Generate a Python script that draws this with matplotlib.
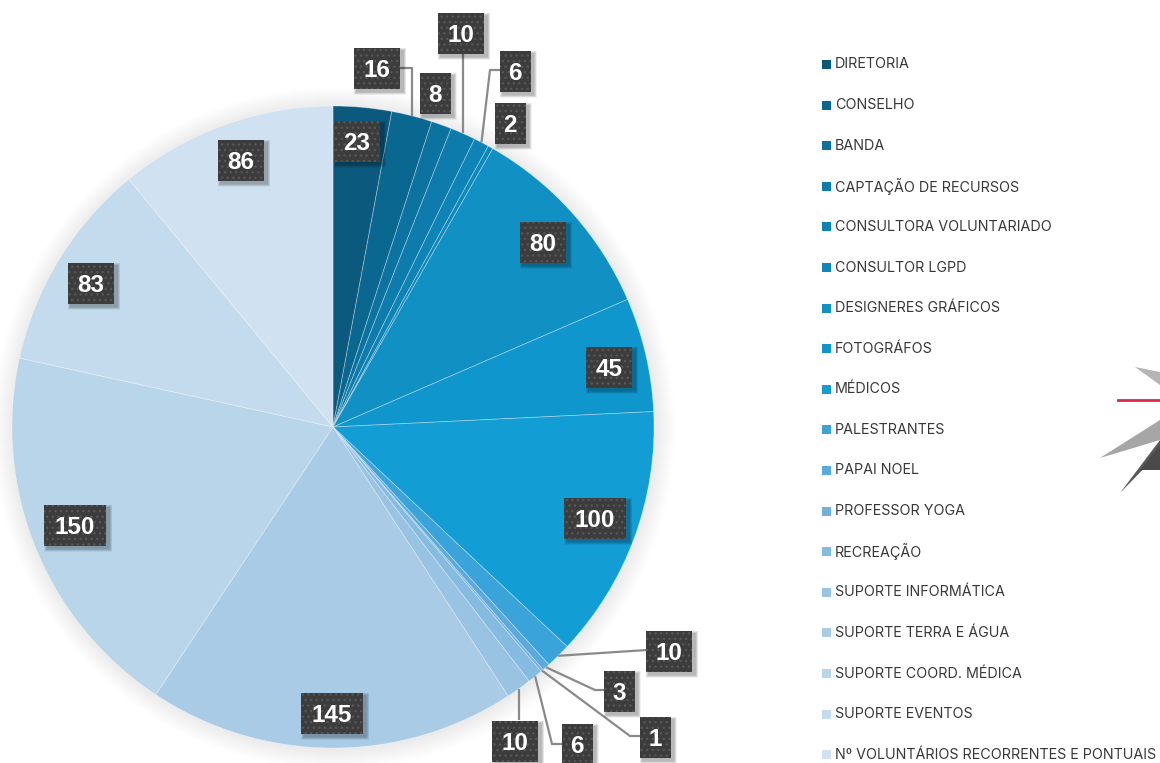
import matplotlib
matplotlib.use("Agg")
import matplotlib.pyplot as plt
from matplotlib.patches import Rectangle, Circle, Polygon
import numpy as np

plt.rcParams['hatch.linewidth'] = 1.0

categories = [
    "DIRETORIA", "CONSELHO", "BANDA", "CAPTAÇÃO DE RECURSOS",
    "CONSULTORA VOLUNTARIADO", "CONSULTOR LGPD", "DESIGNERES GRÁFICOS",
    "FOTOGRÁFOS", "MÉDICOS", "PALESTRANTES", "PAPAI NOEL", "PROFESSOR YOGA",
    "RECREAÇÃO", "SUPORTE INFORMÁTICA", "SUPORTE TERRA E ÁGUA",
    "SUPORTE COORD. MÉDICA", "SUPORTE EVENTOS",
    "Nº VOLUNTÁRIOS RECORRENTES E PONTUAIS",
]
values = [23, 16, 8, 10, 6, 2, 80, 45, 100, 10, 3, 1, 6, 10, 145, 150, 83, 86]
colors = [
    "#0b5a7e", "#0a6890", "#0c72a0", "#0d7bab", "#0e83b5", "#0e88bc",
    "#1090c3", "#0f96cc", "#129dd5", "#3aa3d9", "#5aaadd", "#6eb0de",
    "#85bbe0", "#98c3e3", "#a9cbe6", "#b8d5ea", "#c4dbee", "#d0e2f1",
]

W, H = 1160, 763
fig = plt.figure(figsize=(W / 100, H / 100), dpi=100)
ax = fig.add_axes([0, 0, 1, 1])


def Y(py):
    """Screen row -> axes y (axes are laid out in pixel units)."""
    return H - py


cx, cy, R = 333, Y(427), 321

# soft drop shadow around the pie
for i in range(20, 0, -1):
    ax.add_patch(Circle((cx + 1, cy - 1), R + i, color="black",
                        alpha=0.005, lw=0, zorder=1))

wedges, _ = ax.pie(values, colors=colors, startangle=90, counterclock=False,
                   center=(cx, cy), radius=R, frame=True,
                   wedgeprops=dict(edgecolor=(1, 1, 1, 0.35), linewidth=0.6,
                                   zorder=2))

ax.set_xlim(0, W)
ax.set_ylim(0, H)
ax.set_aspect("equal")
ax.axis("off")

# label box centres (screen pixels) and leader routing for each slice
label_pos = [
    (357, 141), (377, 68), (435, 93), (461, 33), (515, 71), (510, 123),
    (543, 242), (609, 367), (595, 518), (669, 651), (619, 691), (655, 737),
    (577, 744), (515, 741), (332, 713), (75, 525), (91, 283), (241, 160),
]
# leader: list of intermediate screen points between slice edge and box
leaders = {
    1: [(412, 68)],
    3: [],
    4: [(490, 70)],
    9: [],
    10: [(595, 690)],
    11: [(630, 736)],
    12: [(552, 744)],
    13: [],
}
leader_end = {
    1: (400, 68), 3: (463, 53), 4: (500, 70), 9: (647, 650),
    10: (604, 690), 11: (640, 736), 12: (562, 744), 13: (519, 720),
}

for idx, pts in leaders.items():
    w = wedges[idx]
    mid = np.deg2rad((w.theta1 + w.theta2) / 2)
    x0, y0 = cx + R * np.cos(mid), cy + R * np.sin(mid)
    xs = [x0] + [p[0] for p in pts] + [leader_end[idx][0]]
    ys = [y0] + [Y(p[1]) for p in pts] + [Y(leader_end[idx][1])]
    if idx == 1:
        xs[1] = x0
    if idx in (3, 13):
        xs[-1] = x0
    ax.plot(xs, ys, color="#8a8a8a", lw=1.6, zorder=3, solid_capstyle="butt")

for v, (px, py) in zip(values, label_pos):
    n = len(str(v))
    bw, bh = 15.5 * n + 15.5, 41
    x0, y0 = px - bw / 2, Y(py) - bh / 2
    for k in range(6, 0, -1):
        ax.add_patch(Rectangle((x0 + 3 - k * 0.5, y0 - 3 - k * 0.5),
                               bw + k, bh + k, color="black",
                               alpha=0.05, lw=0, zorder=4))
    ax.add_patch(Rectangle((x0, y0), bw, bh, facecolor="#3c3c3c",
                           edgecolor="#565656", lw=0, hatch="...",
                           zorder=5))
    ax.text(px, Y(py), str(v), color="white", fontsize=17.5,
            fontweight="bold", family="Liberation Sans",
            ha="center", va="center_baseline", zorder=6)

# legend
lx, ly0, step = 822, 64.5, 40.6
for i, (name, c) in enumerate(zip(categories, colors)):
    yy = Y(ly0 + i * step)
    ax.add_patch(Rectangle((lx, yy - 4.5), 9, 9, color=c, lw=0, zorder=5))
    ax.text(lx + 13, yy, name, fontsize=10.3, color="#383838",
            family="Inter", ha="left", va="center", zorder=5)

# decorative corner emblem
ax.add_patch(Polygon([(1135, Y(367)), (1160, Y(372)), (1160, Y(385))],
                     closed=True, color="#b5b5b5", lw=0, zorder=2))
ax.add_patch(Polygon([(1100, Y(458)), (1160, Y(420)), (1160, Y(440))],
                     closed=True, color="#a6a6a6", lw=0, zorder=2))
ax.add_patch(Polygon([(1120, Y(493)), (1160, Y(440)), (1160, Y(452))],
                     closed=True, color="#5a5a5a", lw=0, zorder=2))
ax.add_patch(Polygon([(1140, Y(470)), (1160, Y(445)), (1160, Y(470))],
                     closed=True, color="#4a4a4a", lw=0, zorder=2))
ax.plot([1118, 1160], [Y(400), Y(400)], color="#e0264a", lw=2, zorder=3)

fig.savefig("out.png", dpi=100, facecolor="white")
